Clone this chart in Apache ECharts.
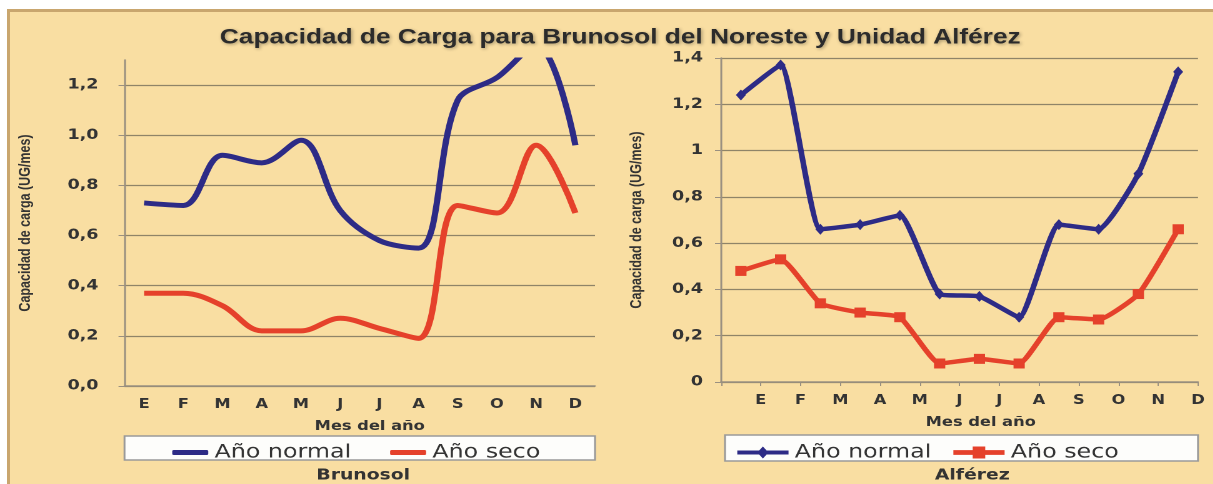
<!DOCTYPE html>
<html>
<head>
<meta charset="utf-8">
<title>Capacidad de Carga</title>
<script src="https://cdn.jsdelivr.net/npm/echarts@6/dist/echarts.min.js"></script>
<style>
  html, body { margin: 0; padding: 0; background: #fff; overflow: hidden; }
  #bg {
    position: absolute; left: 7px; top: 9px; right: 0; bottom: 0;
    background: #F9DEA2;
    border-top: 3px solid #c9a66e; border-left: 3px solid #c9a66e;
  }
  #main { position: absolute; left: 0; top: 0; height: 484px; transform-origin: 0 0; }
</style>
</head>
<body>
<div id="bg"></div>
<div id="main"></div>
<script>
// the source figure is stretched sideways, so draw narrower and stretch back
const K = 1.25;
const W = 1213 / K;
const px = v => v / K;

const months = ['E', 'F', 'M', 'A', 'M', 'J', 'J', 'A', 'S', 'O', 'N', 'D'];
const monthTicks = [''].concat(months);

// Brunosol
const brunoNormal = [0.73, 0.72, 0.92, 0.89, 0.98, 0.70, 0.58, 0.55, 1.14, 1.23, 1.36, 0.96];
const brunoSeco = [0.37, 0.37, 0.32, 0.22, 0.22, 0.27, 0.23, 0.19, 0.72, 0.69, 0.96, 0.69];
// Alférez
const alfNormal = [1.24, 1.37, 0.66, 0.68, 0.72, 0.38, 0.37, 0.28, 0.68, 0.66, 0.90, 1.34];
const alfSeco = [0.48, 0.53, 0.34, 0.30, 0.28, 0.08, 0.10, 0.08, 0.28, 0.27, 0.38, 0.66];

const BLUE = '#2D2B86';
const RED = '#E5412B';
const GRID_LINE = '#8f8468';
const AXIS_LINE = '#9a9080';

const el = document.getElementById('main');
el.style.width = W + 'px';
el.style.transform = 'scaleX(' + K + ')';
const chart = echarts.init(el, null, { renderer: 'canvas', devicePixelRatio: 2 });

const yLabel = {
  color: '#333', fontFamily: 'DejaVu Sans', fontWeight: 'bold', fontSize: 14
};
const xLabel = {
  color: '#333', fontFamily: 'DejaVu Sans', fontWeight: 'bold', fontSize: 13, margin: 12
};
const yName = {
  color: '#333', fontFamily: 'Liberation Sans', fontWeight: 'bold', fontSize: 12.5
};
const xName = {
  color: '#333', fontFamily: 'DejaVu Sans', fontWeight: 'bold', fontSize: 13
};

chart.setOption({
  backgroundColor: 'transparent',
  animation: false,
  title: [{
    text: 'Capacidad de Carga para Brunosol del Noreste y Unidad Alférez',
    left: px(614), top: 22, textAlign: 'center',
    textStyle: {
      fontFamily: 'Liberation Sans', fontWeight: 'bold', fontSize: 21, color: '#2b2b2b',
      textShadowColor: 'rgba(0,0,0,0.35)', textShadowBlur: 3, textShadowOffsetX: 1, textShadowOffsetY: 1
    }
  }, {
    text: 'Brunosol', left: px(357), top: 463, textAlign: 'center',
    textStyle: { fontFamily: 'DejaVu Sans', fontWeight: 'bold', fontSize: 15, color: '#333' }
  }, {
    text: 'Alférez', left: px(966), top: 463, textAlign: 'center',
    textStyle: { fontFamily: 'DejaVu Sans', fontWeight: 'bold', fontSize: 15, color: '#333' }
  }],
  graphic: [{
    type: 'rect', z: 1,
    shape: { x: px(124.5), y: 436, width: px(470.5), height: 24 },
    style: { fill: '#fdfdfb', stroke: '#9a9a9a', lineWidth: 1.5 }
  }, {
    type: 'rect', z: 1,
    shape: { x: px(725), y: 435, width: px(473), height: 26 },
    style: { fill: '#fdfdfb', stroke: '#9a9a9a', lineWidth: 1.5 }
  }],
  legend: [{
    left: px(166), top: 438, itemWidth: px(36), itemHeight: 5, itemGap: px(39),
    selectedMode: false, icon: 'roundRect',
    textStyle: { fontFamily: 'DejaVu Sans', fontSize: 19, color: '#333', lineHeight: 19 },
    data: ['Año normal', 'Año seco']
  }, {
    left: px(731), top: 438, itemWidth: 41, itemHeight: 12, itemGap: px(22),
    selectedMode: false, symbolKeepAspect: false,
    textStyle: { fontFamily: 'DejaVu Sans', fontSize: 19, color: '#333', lineHeight: 19 },
    data: [
      { name: 'Año normal', icon: 'path://M0,4L41,4L41,8L0,8Z M20.5,0L25,6L20.5,12L16,6Z' },
      { name: 'Año seco', icon: 'path://M0,4L41,4L41,8L0,8Z M15.5,1L25.5,1L25.5,11L15.5,11Z' }
    ]
  }],
  grid: [
    { left: px(124.5), top: 60, width: px(470.5), height: 326 },
    { left: px(721), top: 58, width: px(477), height: 324 }
  ],
  xAxis: [{
    gridIndex: 0, type: 'category', data: months, boundaryGap: true,
    axisLine: { lineStyle: { color: AXIS_LINE, width: 1.5 } },
    axisTick: { length: 4, lineStyle: { color: AXIS_LINE } },
    axisLabel: xLabel,
    name: 'Mes del año', nameLocation: 'middle', nameGap: 34,
    nameTextStyle: Object.assign({ padding: [0, 0, 0, 16] }, xName)
  }, {
    gridIndex: 1, type: 'category', data: monthTicks, boundaryGap: false,
    axisLine: { lineStyle: { color: AXIS_LINE, width: 1.5 } },
    axisTick: { length: 4, lineStyle: { color: AXIS_LINE } },
    axisLabel: Object.assign({ interval: 0 }, xLabel),
    name: 'Mes del año', nameLocation: 'middle', nameGap: 34,
    nameTextStyle: Object.assign({ padding: [0, 0, 0, 34] }, xName)
  }, {
    gridIndex: 1, type: 'category', data: months, boundaryGap: true, show: false
  }],
  yAxis: [{
    gridIndex: 0, type: 'value', min: 0, max: 1.3, interval: 0.2,
    axisLine: { show: true, lineStyle: { color: AXIS_LINE, width: 1.5 } },
    axisTick: { show: true, length: px(6), lineStyle: { color: AXIS_LINE } },
    axisLabel: Object.assign({
      margin: px(26), showMaxLabel: false,
      formatter: v => v.toFixed(1).replace('.', ',')
    }, yLabel),
    splitLine: { showMaxLine: false, lineStyle: { color: GRID_LINE, width: 1.2 } },
    name: 'Capacidad de carga (UG/mes)', nameLocation: 'middle', nameGap: px(91),
    nameTextStyle: yName
  }, {
    gridIndex: 1, type: 'value', min: 0, max: 1.4, interval: 0.2,
    axisLine: { show: true, lineStyle: { color: AXIS_LINE, width: 1.5 } },
    axisTick: { show: true, length: px(6), lineStyle: { color: AXIS_LINE } },
    axisLabel: Object.assign({
      margin: px(18),
      formatter: v => String(+v.toFixed(1)).replace('.', ',')
    }, yLabel),
    splitLine: { lineStyle: { color: GRID_LINE, width: 1.2 } },
    name: 'Capacidad de carga (UG/mes)', nameLocation: 'middle', nameGap: px(76),
    nameTextStyle: yName
  }],
  series: [{
    name: 'Año normal', type: 'line', xAxisIndex: 0, yAxisIndex: 0,
    data: brunoNormal, smooth: 0.35, symbol: 'none',
    lineStyle: { color: BLUE, width: 5 }, itemStyle: { color: BLUE }
  }, {
    name: 'Año seco', type: 'line', xAxisIndex: 0, yAxisIndex: 0,
    data: brunoSeco, smooth: 0.35, symbol: 'none',
    lineStyle: { color: RED, width: 5 }, itemStyle: { color: RED }
  }, {
    name: 'Año normal', type: 'line', xAxisIndex: 2, yAxisIndex: 1,
    data: alfNormal, smooth: 0.15, symbol: 'diamond', symbolSize: [8, 11],
    lineStyle: { color: BLUE, width: 4.5 }, itemStyle: { color: BLUE }
  }, {
    name: 'Año seco', type: 'line', xAxisIndex: 2, yAxisIndex: 1,
    data: alfSeco, smooth: 0.15, symbol: 'rect', symbolSize: [9, 10],
    lineStyle: { color: RED, width: 4.5 }, itemStyle: { color: RED }
  }]
});
</script>
</body>
</html>
